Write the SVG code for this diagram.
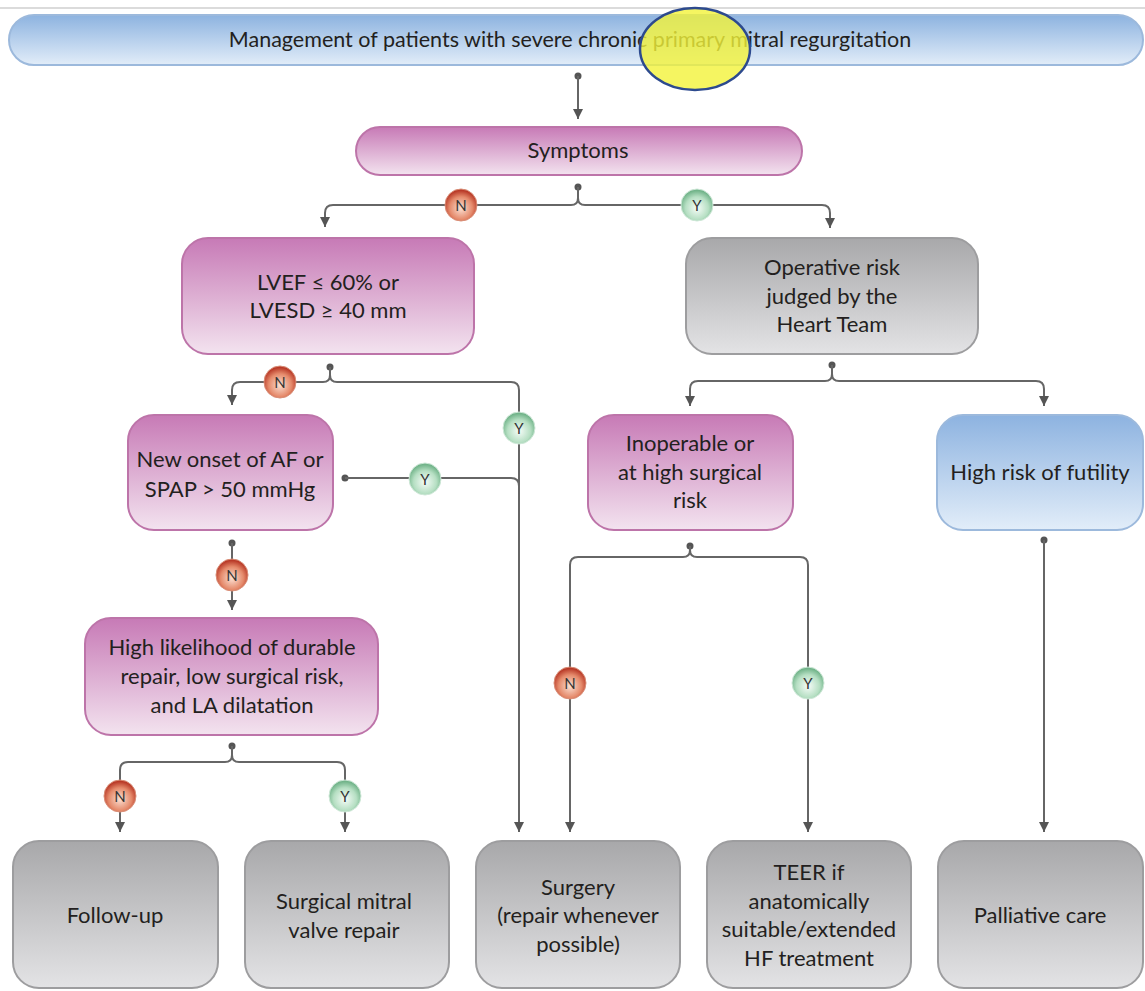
<svg xmlns="http://www.w3.org/2000/svg" width="1145" height="991" viewBox="0 0 1145 991">
<defs>
<linearGradient id="gBlue" x1="0" y1="0" x2="0" y2="1"><stop offset="0" stop-color="#8db3e0"/><stop offset="1" stop-color="#e2edf9"/></linearGradient>
<linearGradient id="gPink" x1="0" y1="0" x2="0" y2="1"><stop offset="0" stop-color="#c77ab6"/><stop offset="1" stop-color="#f3e3ef"/></linearGradient>
<linearGradient id="gGray" x1="0" y1="0" x2="0" y2="1"><stop offset="0" stop-color="#a8a8aa"/><stop offset="1" stop-color="#e3e3e5"/></linearGradient>
<radialGradient id="gN" cx="0.5" cy="0.6" r="0.55"><stop offset="0" stop-color="#fbe0d3"/><stop offset="0.65" stop-color="#e58a6b"/><stop offset="1" stop-color="#b93a28"/></radialGradient>
<radialGradient id="gY" cx="0.5" cy="0.6" r="0.55"><stop offset="0" stop-color="#f6fcf8"/><stop offset="0.65" stop-color="#b6dfc3"/><stop offset="1" stop-color="#72b48a"/></radialGradient>
<marker id="arr" markerUnits="userSpaceOnUse" markerWidth="12" markerHeight="12" viewBox="0 0 12 12" refX="11" refY="6" orient="auto">
<path d="M1,1 L11,6 L1,11 Z" fill="#555"/>
</marker>
<style>
.t{font-family:Lato,"Liberation Sans",sans-serif;font-size:22px;fill:#231f20;text-anchor:middle}
.tt{font-family:Lato,"Liberation Sans",sans-serif;font-size:21.5px;fill:#231f20;text-anchor:middle}
.c{font-family:Lato,"Liberation Sans",sans-serif;font-size:15px;fill:#333;text-anchor:middle}
.bl{fill:url(#gBlue);stroke:#9cb9dc;stroke-width:2}
.pk{fill:url(#gPink);stroke:#bd74a9;stroke-width:2}
.gr{fill:url(#gGray);stroke:#9d9d9f;stroke-width:2}
.ln{fill:none;stroke:#666;stroke-width:2}
.dot{fill:#555}
.n{fill:url(#gN);stroke:#d98f78;stroke-width:1}
.y{fill:url(#gY);stroke:#cfe8d8;stroke-width:1}
</style>
</defs>
<rect x="0" y="0" width="1145" height="991" fill="#fff"/>
<line x1="0" y1="8" x2="1145" y2="8" stroke="#cfcfcf" stroke-width="1.5"/>

<g id="connectors">
<circle class="dot" cx="578" cy="76" r="3.5"/>
<path class="ln" d="M578,76 V119" marker-end="url(#arr)"/>

<circle class="dot" cx="578" cy="187" r="3.5"/>
<path class="ln" d="M578,187 V198 Q578,205 571,205 H333 Q325,205 325,213 V227" marker-end="url(#arr)"/>
<path class="ln" d="M578,198 Q578,205 585,205 H822 Q830,205 830,213 V228" marker-end="url(#arr)"/>

<circle class="dot" cx="330" cy="367" r="3.5"/>
<path class="ln" d="M330,367 V375 Q330,382 323,382 H240 Q232,382 232,390 V405" marker-end="url(#arr)"/>
<path class="ln" d="M330,375 Q330,382 337,382 H511 Q519,382 519,390 V832" marker-end="url(#arr)"/>

<circle class="dot" cx="832" cy="365" r="3.5"/>
<path class="ln" d="M832,365 V374 Q832,381 825,381 H698 Q690,381 690,389 V406" marker-end="url(#arr)"/>
<path class="ln" d="M832,374 Q832,381 839,381 H1036 Q1044,381 1044,389 V406" marker-end="url(#arr)"/>

<circle class="dot" cx="345" cy="478" r="3.5"/>
<path class="ln" d="M345,478 H511 Q519,478 519,486"/>

<circle class="dot" cx="232" cy="543" r="3.5"/>
<path class="ln" d="M232,543 V610" marker-end="url(#arr)"/>

<circle class="dot" cx="232" cy="746" r="3.5"/>
<path class="ln" d="M232,746 V755 Q232,762 225,762 H128 Q120,762 120,770 V832" marker-end="url(#arr)"/>
<path class="ln" d="M232,755 Q232,762 239,762 H337 Q345,762 345,770 V832" marker-end="url(#arr)"/>

<circle class="dot" cx="690" cy="546" r="3.5"/>
<path class="ln" d="M690,546 V550 Q690,557 683,557 H578 Q570,557 570,565 V832" marker-end="url(#arr)"/>
<path class="ln" d="M690,550 Q690,557 697,557 H800 Q808,557 808,565 V832" marker-end="url(#arr)"/>

<circle class="dot" cx="1044" cy="540" r="3.5"/>
<path class="ln" d="M1044,540 V832" marker-end="url(#arr)"/>

<g id="badges">
<circle class="n" cx="461" cy="205" r="16"/><text class="c" x="461" y="210.5">N</text>
<circle class="y" cx="697" cy="205" r="16"/><text class="c" x="697" y="210.5">Y</text>
<circle class="n" cx="280" cy="382" r="16"/><text class="c" x="280" y="387.5">N</text>
<circle class="y" cx="519" cy="428" r="16"/><text class="c" x="519" y="433.5">Y</text>
<circle class="y" cx="425" cy="479" r="16"/><text class="c" x="425" y="484.5">Y</text>
<circle class="n" cx="232" cy="575" r="16"/><text class="c" x="232" y="580.5">N</text>
<circle class="n" cx="120" cy="796" r="16"/><text class="c" x="120" y="801.5">N</text>
<circle class="y" cx="345" cy="796" r="16"/><text class="c" x="345" y="801.5">Y</text>
<circle class="n" cx="570" cy="683" r="16"/><text class="c" x="570" y="688.5">N</text>
<circle class="y" cx="808" cy="683" r="16"/><text class="c" x="808" y="688.5">Y</text>
</g>
</g>

<g id="title">
<rect class="bl" x="9" y="15" width="1134" height="50" rx="25"/>
<text class="tt" x="570" y="47">Management of patients with severe chronic primary mitral regurgitation</text>
</g>

<g id="symptoms">
<rect class="pk" x="356" y="127" width="446" height="48" rx="24"/>
<text class="t" x="578" y="158">Symptoms</text>
</g>

<g id="lvef">
<rect class="pk" x="182" y="238" width="292" height="116" rx="26"/>
<text class="t" x="328" y="290">LVEF ≤ 60% or</text>
<text class="t" x="328" y="318">LVESD ≥ 40 mm</text>
</g>

<g id="operative">
<rect class="gr" x="686" y="238" width="292" height="116" rx="26"/>
<text class="t" x="832" y="275">Operative risk</text>
<text class="t" x="832" y="304">judged by the</text>
<text class="t" x="832" y="332">Heart Team</text>
</g>

<g id="newonset">
<rect class="pk" x="128" y="415" width="205" height="115" rx="26"/>
<text class="t" x="230" y="467">New onset of AF or</text>
<text class="t" x="230" y="497">SPAP &gt; 50 mmHg</text>
</g>

<g id="inoperable">
<rect class="pk" x="588" y="415" width="205" height="115" rx="26"/>
<text class="t" x="690" y="451">Inoperable or</text>
<text class="t" x="690" y="480">at high surgical</text>
<text class="t" x="690" y="508">risk</text>
</g>

<g id="futility">
<rect class="bl" x="937" y="415" width="206" height="115" rx="26"/>
<text class="t" x="1040" y="480">High risk of futility</text>
</g>

<g id="likelihood">
<rect class="pk" x="85" y="618" width="293" height="117" rx="26"/>
<text class="t" x="232" y="655">High likelihood of durable</text>
<text class="t" x="232" y="684">repair, low surgical risk,</text>
<text class="t" x="232" y="713">and LA dilatation</text>
</g>

<g id="followup">
<rect class="gr" x="13" y="841" width="205" height="147" rx="26"/>
<text class="t" x="115" y="923">Follow-up</text>
</g>

<g id="smvr">
<rect class="gr" x="245" y="841" width="204" height="147" rx="26"/>
<text class="t" x="344" y="909">Surgical mitral</text>
<text class="t" x="344" y="938">valve repair</text>
</g>

<g id="surgery">
<rect class="gr" x="476" y="841" width="204" height="147" rx="26"/>
<text class="t" x="578" y="895">Surgery</text>
<text class="t" x="578" y="923">(repair whenever</text>
<text class="t" x="578" y="952">possible)</text>
</g>

<g id="teer">
<rect class="gr" x="707" y="841" width="204" height="147" rx="26"/>
<text class="t" x="809" y="880">TEER if</text>
<text class="t" x="809" y="909">anatomically</text>
<text class="t" x="809" y="937">suitable/extended</text>
<text class="t" x="809" y="966">HF treatment</text>
</g>

<g id="palliative">
<rect class="gr" x="938" y="841" width="205" height="147" rx="26"/>
<text class="t" x="1040" y="923">Palliative care</text>
</g>

<ellipse cx="695" cy="49" rx="55" ry="41" fill="#f2f23a" fill-opacity="0.8" stroke="#2d4a8e" stroke-width="2.5"/>
</svg>
